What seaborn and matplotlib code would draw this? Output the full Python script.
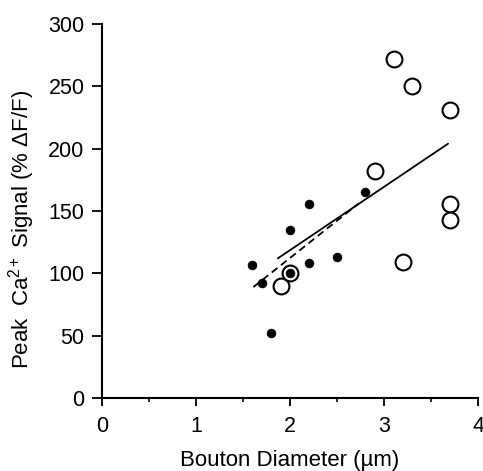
import matplotlib
matplotlib.use("Agg")
import matplotlib.pyplot as plt
import seaborn as sns
import pandas as pd
from matplotlib.ticker import MultipleLocator

sns.set_theme(style="ticks")
plt.rcParams['font.family'] = ['Liberation Sans', 'DejaVu Sans']
plt.rcParams['mathtext.fontset'] = 'custom'
plt.rcParams['mathtext.rm'] = 'Liberation Sans'
plt.rcParams['mathtext.it'] = 'Liberation Sans:italic'

# Filled (small) dots
filled_x = [1.6, 1.7, 1.8, 2.0, 2.0, 2.2, 2.2, 2.5, 2.8]
filled_y = [107, 92, 52, 135, 100, 156, 108, 113, 165]

# Open (large) circles
open_x = [1.9, 2.0, 2.9, 3.2, 3.7, 3.7, 3.1, 3.3, 3.7]
open_y = [90, 100, 182, 109, 156, 143, 272, 250, 231]

# Regression lines (endpoints)
solid_x = [1.87, 3.68]
solid_y = [112, 204]
dashed_x = [1.61, 2.73]
dashed_y = [89, 156]

fig = plt.figure(figsize=(4.83, 4.71), dpi=100)
ax = fig.add_axes([0.211, 0.155, 0.779, 0.794])

sns.lineplot(x=solid_x, y=solid_y, color='black', linewidth=1.3, ax=ax)
sns.lineplot(x=dashed_x, y=dashed_y, color='black', linewidth=1.3,
             linestyle=(0, (4, 2.5)), ax=ax)

df_open = pd.DataFrame({'x': open_x, 'y': open_y})
df_filled = pd.DataFrame({'x': filled_x, 'y': filled_y})
sns.scatterplot(data=df_open, x='x', y='y', s=130, facecolor='white',
                edgecolor='black', linewidth=1.5, ax=ax, zorder=3)
sns.scatterplot(data=df_filled, x='x', y='y', s=40, color='black',
                edgecolor='black', linewidth=0.5, ax=ax, zorder=4)

ax.set_xlim(0, 4)
ax.set_ylim(0, 300)
ax.xaxis.set_major_locator(MultipleLocator(1))
ax.xaxis.set_minor_locator(MultipleLocator(0.5))
ax.yaxis.set_major_locator(MultipleLocator(50))

for side in ['top', 'right']:
    ax.spines[side].set_visible(False)
for side in ['left', 'bottom']:
    ax.spines[side].set_linewidth(1.5)
    ax.spines[side].set_color('black')

ax.tick_params(axis='y', which='major', length=7.5, width=1.3,
               labelsize=15.5, colors='black', direction='out', pad=5)
ax.tick_params(axis='x', which='major', length=6, width=1.3,
               labelsize=15.5, colors='black', direction='out', pad=7)
ax.tick_params(axis='x', which='minor', length=3, width=1.2, colors='black')

ax.set_xlabel('Bouton Diameter (µm)', fontsize=16, color='black', labelpad=9)
ax.set_ylabel('Peak  Ca$^{\\mathrm{2+}}$ Signal (% ΔF/F)', fontsize=16,
              color='black')
ax.yaxis.set_label_coords(-0.172, 0.45)

fig.savefig('out.png', dpi=100)
